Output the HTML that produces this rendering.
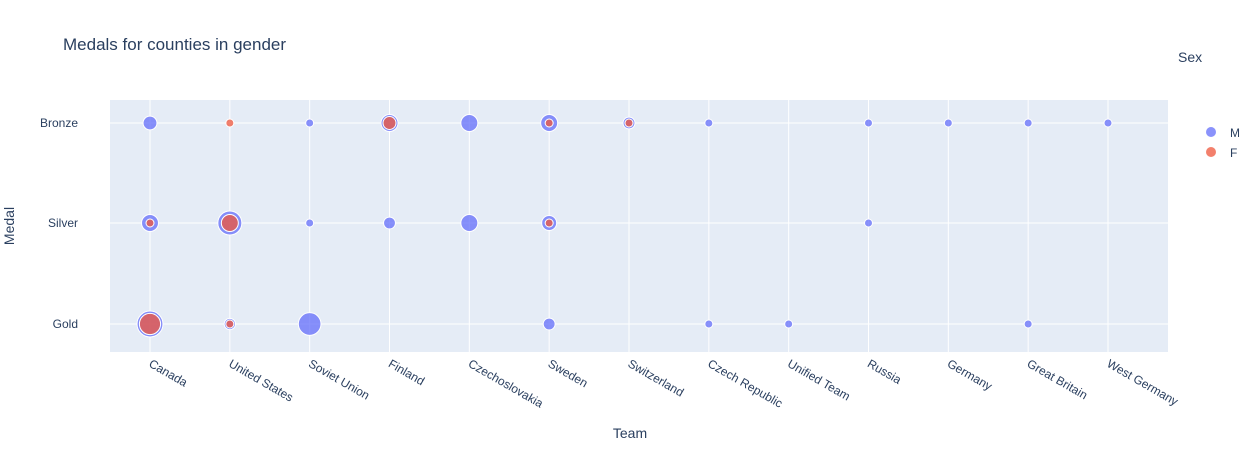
<!DOCTYPE html>
<html><head><meta charset="utf-8"><style>
body{margin:0;background:#fff;font-family:"Liberation Sans",Arial,sans-serif}
svg text{fill:#2a3f5f;font-family:"Liberation Sans",Arial,sans-serif}
</style></head><body>
<svg id="chart" width="1259" height="450">
<rect x="0" y="0" width="1259" height="450" fill="#fff"/>
<text x="63" y="50" font-size="17">Medals for counties in gender</text>
<rect x="110" y="100" width="1058" height="252" fill="#e5ecf6"/>
<g id="grid"></g><g id="marks"></g><g id="labels"></g>
<text x="630" y="438" font-size="14" text-anchor="middle">Team</text>
<text transform="translate(14,226) rotate(-90)" font-size="14" text-anchor="middle">Medal</text>
<text x="1178" y="62" font-size="14">Sex</text>
<g><circle cx="1211" cy="132" r="5" fill="#636efa" opacity="0.75"/><text x="1230" y="137" font-size="12">M</text></g>
<g><circle cx="1211" cy="152" r="5" fill="#EF553B" opacity="0.75"/><text x="1230" y="157" font-size="12">F</text></g>
</svg>
<script>
const teams=["Canada","United States","Soviet Union","Finland","Czechoslovakia","Sweden","Switzerland","Czech Republic","Unified Team","Russia","Germany","Great Britain","West Germany"];
const medals=["Gold","Silver","Bronze"];
// [team, medal, count]
const maleData=[["Canada","Bronze",3],["Canada","Silver",4.5],["Canada","Gold",10.5],["United States","Silver",9],["United States","Gold",2],["Soviet Union","Bronze",1],["Soviet Union","Silver",1],["Soviet Union","Gold",8],["Finland","Bronze",4.5],["Finland","Silver",2.2],["Czechoslovakia","Bronze",4.5],["Czechoslovakia","Silver",4.5],["Sweden","Bronze",4.5],["Sweden","Silver",3.5],["Sweden","Gold",2.2],["Switzerland","Bronze",2.2],["Czech Republic","Bronze",1],["Czech Republic","Gold",1],["Unified Team","Gold",1],["Russia","Bronze",1],["Russia","Silver",1],["Germany","Bronze",1],["Great Britain","Bronze",1],["Great Britain","Gold",1],["West Germany","Bronze",1]];
const femaleData=[["Canada","Silver",1],["Canada","Gold",7],["United States","Bronze",1],["United States","Silver",4.5],["United States","Gold",1],["Finland","Bronze",2.6],["Sweden","Bronze",1],["Sweden","Silver",1],["Switzerland","Bronze",1]];
const xTicks=teams, yTicks=medals;
const NS="http://www.w3.org/2000/svg";
const x0=110,x1=1168,y0=100,y1=352;
const xs=t=>150+teams.indexOf(t)*((1108-150)/(teams.length-1));
const ys=m=>({Gold:324,Silver:223,Bronze:123})[m];
const sz=n=>4*Math.sqrt(n);
function mk(tag,a,p){const e=document.createElementNS(NS,tag);for(const k in a)e.setAttribute(k,a[k]);p.appendChild(e);return e;}
const g=document.getElementById('grid'),mg=document.getElementById('marks'),lg=document.getElementById('labels');
xTicks.forEach(t=>{const x=xs(t);
 const l=mk('line',{x1:x,x2:x,y1:y0,y2:y1,stroke:'#fff','stroke-width':1},g);
 
 const tx=mk('text',{transform:`translate(${x-2},${y1+14}) rotate(30)`,'font-size':12},lg);tx.textContent=t;
 });
yTicks.forEach(m=>{const y=ys(m);
 const l=mk('line',{x1:x0,x2:x1,y1:y,y2:y,stroke:'#fff','stroke-width':1},g);
 
 const tx=mk('text',{x:78,y:y+4,'font-size':12,'text-anchor':'end'},lg);tx.textContent=m;
 });
function draw(data,color,name){data.forEach(d=>{
 const c=mk('circle',{cx:xs(d[0]),cy:ys(d[1]),r:sz(d[2]),fill:color,'fill-opacity':0.75,stroke:'#fff','stroke-width':1},mg);
 });}
draw(maleData,'#636efa','bubble-male');
draw(femaleData,'#EF553B','bubble-female');
</script>
</body></html>
